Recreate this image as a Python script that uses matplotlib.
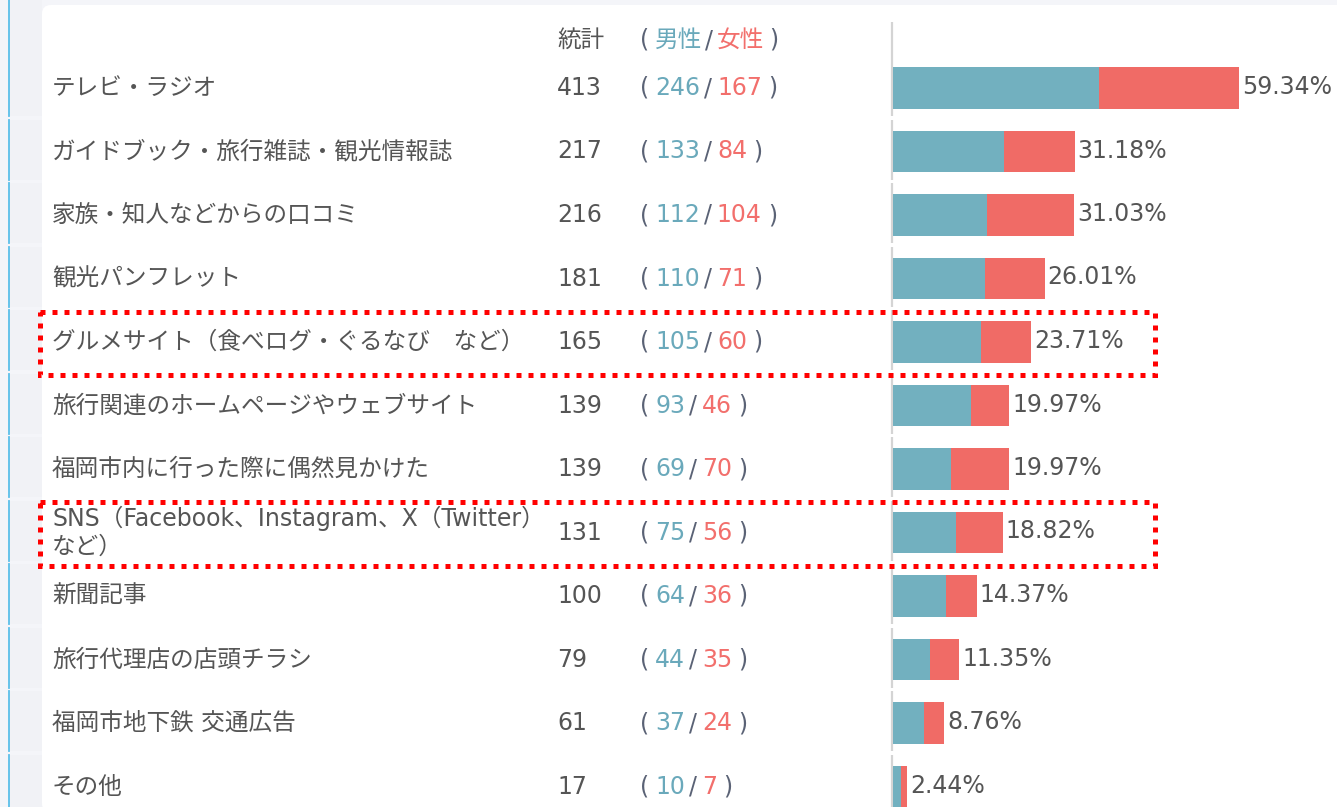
import matplotlib
matplotlib.use("Agg")
import matplotlib.pyplot as plt
from matplotlib.patches import Rectangle, FancyBboxPatch
from matplotlib.transforms import blended_transform_factory

# Latin/digits in DejaVu (Verdana-like, as in Meiryo), kana/kanji from Noto CJK
plt.rcParams['font.family'] = ['DejaVu Sans', 'Noto Sans CJK JP']

# data
labels = ["テレビ・ラジオ",
          "ガイドブック・旅行雑誌・観光情報誌",
          "家族・知人などからの口コミ",
          "観光パンフレット",
          "グルメサイト（食べログ・ぐるなび　など）",
          "旅行関連のホームページやウェブサイト",
          "福岡市内に行った際に偶然見かけた",
          "SNS（Facebook、Instagram、X（Twitter）\nなど）",
          "新聞記事",
          "旅行代理店の店頭チラシ",
          "福岡市地下鉄 交通広告",
          "その他"]
totals = [413, 217, 216, 181, 165, 139, 139, 131, 100, 79, 61, 17]
male = [246, 133, 112, 110, 105, 93, 69, 75, 64, 44, 37, 10]
female = [167, 84, 104, 71, 60, 46, 70, 56, 36, 35, 24, 7]
pct = [59.34, 31.18, 31.03, 26.01, 23.71, 19.97, 19.97, 18.82, 14.37, 11.35, 8.76, 2.44]
highlight = [4, 7]

male_c = "#72b0bf"
female_c = "#f06b66"
male_txt = "#6aa9bb"
female_txt = "#f26f6c"
txt_c = "#555555"
par_c = "#5a6275"
fs = 17

W, H = 1337, 807
fig = plt.figure(figsize=(W / 100, H / 100), dpi=100)
fig.patch.set_facecolor("#f4f5f9")

# background in pixel coords
bg = fig.add_axes([0, 0, 1, 1])
bg.set_xlim(0, W)
bg.set_ylim(H, 0)
bg.axis("off")
bg.add_patch(FancyBboxPatch((42, 5), W, H, boxstyle="round,pad=0,rounding_size=9",
                            fc="white", ec="none"))

# main axes: x in percent, y in row index
ax = fig.add_axes([0, 0, 1, 1])
ax.patch.set_alpha(0)
ax.axis("off")
px_per_pct = 5.83
x0 = 892
row_h, row0 = 63.5, 88.0
ax.set_xlim(-x0 / px_per_pct, (W - x0) / px_per_pct)
ax.set_ylim((H - row0) / row_h, -row0 / row_h)
tp = blended_transform_factory(bg.transData, ax.transData)

n = len(labels)
gap = 3.5 / row_h
for i in range(n):
    top = i - 0.5 if i > 0 else -row0 / row_h
    bot = i + 0.5 - gap
    ax.add_patch(Rectangle((9, top), 33, bot - top, transform=tp,
                           fc="#f1f2f6", ec="none", zorder=1))
    ax.plot([8.5, 8.5], [top, bot], transform=tp, color="#5bbfe9", lw=1.3, zorder=2)
    atop = i - 0.5 if i > 0 else -1.04
    ax.plot([0, 0], [atop, bot], color="#d4d4d4", lw=1.6, zorder=2,
            solid_capstyle="butt")

# stacked bars
m_w = [p * m / t for p, m, t in zip(pct, male, totals)]
f_w = [p - w for p, w in zip(pct, m_w)]
ys = list(range(n))
ax.barh(ys, m_w, height=0.66, left=0.15, color=male_c, zorder=3)
ax.barh(ys, f_w, height=0.66, left=[w + 0.15 for w in m_w], color=female_c, zorder=3)


def chain(t, parts):
    for s, c, g in parts:
        t = ax.annotate(s, xy=(1, 0), xycoords=t, xytext=(g, 0),
                        textcoords="offset pixels", va="bottom", ha="left",
                        fontsize=fs, color=c)


for i in range(n):
    ax.annotate(f"{pct[i]:.2f}%", xy=(pct[i] + 0.15, i), xytext=(3, 1),
                textcoords="offset pixels", va="center", ha="left",
                fontsize=fs, color=txt_c, zorder=4)
    ax.text(52, i, labels[i], transform=tp, va="center", ha="left",
            fontsize=fs, color=txt_c, linespacing=1.22)
    ax.text(557, i, str(totals[i]), transform=tp, va="center", ha="left",
            fontsize=fs, color=txt_c)
    t = ax.text(640, i, "(", transform=tp, va="center", ha="left",
                fontsize=fs, color=par_c)
    chain(t, [(str(male[i]), male_txt, 6), ("/", par_c, 4),
              (str(female[i]), female_txt, 5), (")", par_c, 6)])

# header
hy = (40 - row0) / row_h
ax.text(557, hy, "統計", transform=tp, va="center", ha="left", fontsize=fs, color=txt_c)
t = ax.text(640, hy, "(", transform=tp, va="center", ha="left", fontsize=fs, color=par_c)
chain(t, [("男性", male_txt, 6), ("/", par_c, 3), ("女性", female_txt, 3), (")", par_c, 6)])

# red dotted boxes
for i in highlight:
    ax.add_patch(Rectangle((40, i - 0.5 + 0.02), 1115, 1.0, transform=tp, fill=False,
                           ec="#ff0000", lw=3.6, ls=(0, (1, 1.4)), zorder=5))

fig.savefig("out.png", dpi=100, facecolor=fig.get_facecolor())
